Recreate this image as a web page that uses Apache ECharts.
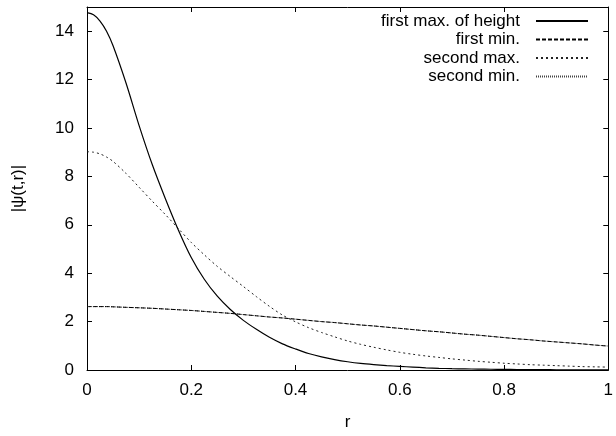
<!DOCTYPE html>
<html>
<head>
<meta charset="utf-8">
<script src="https://cdn.jsdelivr.net/npm/echarts@6/dist/echarts.min.js"></script>
<style>
    html, body { margin: 0; padding: 0; background: #fff; }
    #chart { width: 616px; height: 436px; }
</style>
</head>
<body>
<div id="chart"></div>
<script>
// r grid (finer near r = 0)
var rValues = [0, 0.0125, 0.025, 0.0375, 0.05, 0.075, 0.1, 0.125, 0.15, 0.175, 0.2, 0.225, 0.25, 0.275, 0.3, 0.325, 0.35, 0.375, 0.4,
    0.425, 0.45, 0.475, 0.5, 0.525, 0.55, 0.575, 0.6, 0.625, 0.65, 0.675, 0.7, 0.725, 0.75, 0.775, 0.8,
    0.825, 0.85, 0.875, 0.9, 0.925, 0.95, 0.975, 1];

var firstMax = [14.77, 14.68, 14.42, 14.0, 13.4, 11.85, 10.1, 8.5, 7.1, 5.8, 4.65, 3.75, 3.05, 2.5, 2.05, 1.68, 1.35, 1.08, 0.87,
    0.68, 0.54, 0.43, 0.34, 0.27, 0.22, 0.18, 0.15, 0.12, 0.09, 0.07, 0.055, 0.045, 0.038, 0.03, 0.025,
    0.02, 0.016, 0.013, 0.01, 0.008, 0.006, 0.005, 0.004];

var firstMin = [2.62, 2.62, 2.62, 2.62, 2.61, 2.59, 2.57, 2.55, 2.52, 2.49, 2.46, 2.42, 2.38, 2.34, 2.29, 2.24, 2.19, 2.15, 2.1,
    2.05, 2.0, 1.96, 1.91, 1.86, 1.82, 1.77, 1.72, 1.67, 1.62, 1.58, 1.53, 1.48, 1.44, 1.39, 1.34,
    1.29, 1.25, 1.2, 1.16, 1.12, 1.08, 1.03, 0.99];

var secondMax = [9.02, 9.0, 8.93, 8.8, 8.62, 8.12, 7.55, 6.98, 6.43, 5.85, 5.27, 4.76, 4.28, 3.86, 3.45, 3.03, 2.63, 2.27, 1.99,
    1.75, 1.55, 1.37, 1.2, 1.06, 0.94, 0.83, 0.73, 0.65, 0.58, 0.52, 0.46, 0.41, 0.36, 0.32, 0.28,
    0.25, 0.22, 0.2, 0.18, 0.16, 0.14, 0.13, 0.12];

var secondMin = [2.62, 2.62, 2.62, 2.62, 2.61, 2.59, 2.57, 2.55, 2.52, 2.49, 2.46, 2.42, 2.38, 2.34, 2.29, 2.24, 2.19, 2.15, 2.1,
    2.05, 2.0, 1.96, 1.91, 1.86, 1.82, 1.77, 1.72, 1.67, 1.62, 1.58, 1.53, 1.48, 1.44, 1.39, 1.34,
    1.29, 1.25, 1.2, 1.16, 1.12, 1.08, 1.03, 0.99];

var seriesNames = ['first max. of height', 'first min.', 'second max.', 'second min.'];
var xTicks = [0, 0.2, 0.4, 0.6, 0.8, 1];
var yTicks = [0, 2, 4, 6, 8, 10, 12, 14];

function pairs(ys) {
    var out = [];
    for (var i = 0; i < rValues.length; i++) {
        out.push([rValues[i], ys[i]]);
    }
    return out;
}

function $extend(a, b) {
    var out = {};
    var k;
    for (k in a) { out[k] = a[k]; }
    for (k in b) { out[k] = b[k]; }
    return out;
}

var font = 'Liberation Sans, Arial, Helvetica, sans-serif';

var baseX = {
    type: 'value',
    min: 0,
    max: 1,
    interval: 0.2,
    splitLine: { show: false },
    axisLine: { onZero: false, lineStyle: { color: '#000', width: 1 } },
    axisTick: { inside: true, length: 5, lineStyle: { color: '#000' } }
};
var baseY = {
    type: 'value',
    min: 0,
    max: 15,
    interval: 2,
    splitLine: { show: false },
    axisLine: { onZero: false, lineStyle: { color: '#000', width: 1 } },
    axisTick: { inside: true, length: 5, lineStyle: { color: '#000' } }
};

var option = {
    animation: false,
    backgroundColor: '#fff',
    textStyle: { fontFamily: font },
    grid: { left: 87, right: 5, top: 7, bottom: 60 },
    legend: {
        right: 22,
        top: 7,
        orient: 'vertical',
        align: 'right',
        itemWidth: 52,
        itemHeight: 14,
        itemGap: 0.5,
        itemStyle: { opacity: 0 },
        textStyle: { fontFamily: font, fontSize: 17, lineHeight: 18, color: '#000', padding: [0, 11, 0, 0] },
        data: seriesNames
    },
    xAxis: [
        $extend(baseX, {
            position: 'bottom',
            name: 'r',
            nameLocation: 'middle',
            nameGap: 44,
            nameTextStyle: { fontFamily: font, fontSize: 17, color: '#000' },
            axisLabel: {
                margin: 12, fontSize: 17, color: '#000', fontFamily: font,
                formatter: function (v) { return xTicks.indexOf(Math.round(v * 10) / 10) >= 0 ? String(Math.round(v * 10) / 10) : ''; }
            }
        }),
        $extend(baseX, { position: 'top', axisLabel: { show: false } })
    ],
    yAxis: [
        $extend(baseY, {
            position: 'left',
            name: '|\u03c8(t,r)|',
            nameLocation: 'middle',
            nameGap: 60,
            nameTextStyle: { fontFamily: font, fontSize: 17, color: '#000' },
            axisLabel: {
                margin: 13, fontSize: 17, color: '#000', fontFamily: font, showMaxLabel: false,
                formatter: function (v) { return yTicks.indexOf(v) >= 0 ? String(v) : ''; }
            }
        }),
        $extend(baseY, { position: 'right', axisLabel: { show: false } })
    ],
    series: [
        {
            name: seriesNames[0], type: 'line', smooth: 0.3, symbol: 'none',
            data: pairs(firstMax),
            lineStyle: { color: '#000', width: 1.2, type: 'solid' },
            itemStyle: { color: '#000' }, z: 4
        },
        {
            name: seriesNames[1], type: 'line', smooth: 0.3, symbol: 'none',
            data: pairs(firstMin),
            lineStyle: { color: '#000', width: 1, type: [4, 2] },
            itemStyle: { color: '#000' }, z: 3
        },
        {
            name: seriesNames[2], type: 'line', smooth: 0.3, symbol: 'none',
            data: pairs(secondMax),
            lineStyle: { color: '#222', width: 1, type: [2, 3] },
            itemStyle: { color: '#222' }, z: 3
        },
        {
            name: seriesNames[3], type: 'line', smooth: 0.3, symbol: 'none',
            data: pairs(secondMin),
            lineStyle: { color: '#444', width: 1, type: [1, 1] },
            itemStyle: { color: '#444' }, z: 2
        }
    ]
};

var myChart = echarts.init(document.getElementById('chart'), null, { renderer: 'canvas' });
myChart.setOption(option);
</script>
</body>
</html>
